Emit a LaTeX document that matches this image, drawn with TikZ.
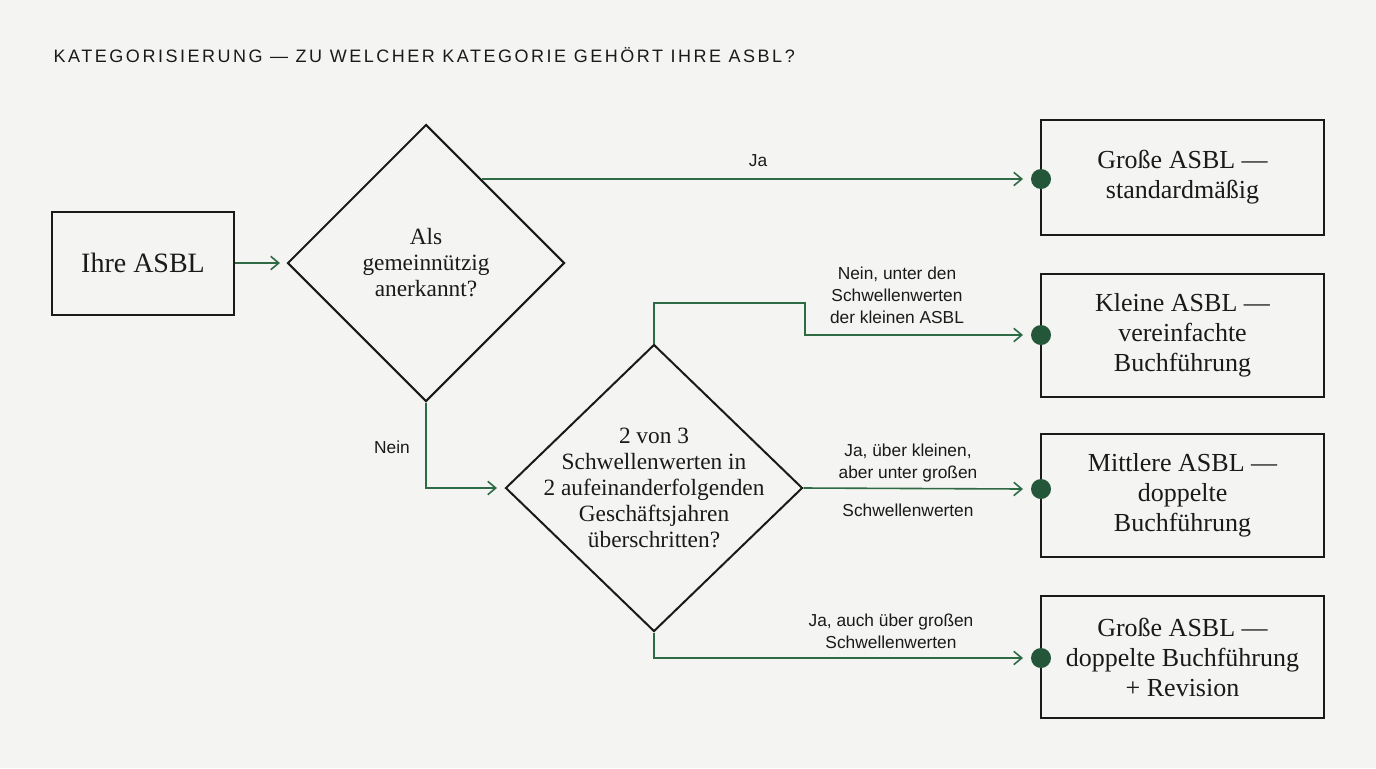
\documentclass[tikz,border=0pt]{standalone}
\usepackage{fontspec}
\setmainfont{Liberation Serif}
\setsansfont{Liberation Sans}
\usetikzlibrary{arrows.meta,shapes.geometric}
\definecolor{bg}{HTML}{F4F4F2}
\definecolor{grn}{HTML}{2E6B45}
\definecolor{dotc}{HTML}{24573A}
\definecolor{ink}{HTML}{1A1A1A}
\begin{document}
\begin{tikzpicture}[x=0.75pt,y=-0.75pt,
  box/.style={draw=ink,line width=1.5pt,inner sep=0pt,align=center,font=\fontsize{19.5}{22.5}\selectfont,text=ink},
  dia/.style={draw=ink,line width=1.5pt,diamond,inner sep=0pt},
  dtxt/.style={align=center,font=\fontsize{17.5}{19.5}\selectfont,text=ink},
  con/.style={draw=grn,line width=1.2pt,-{Straight Barb[length=6pt,width=10pt]}},
  lab/.style={font=\sffamily\fontsize{13}{16.5}\selectfont,text=ink,align=center},
  dot/.style={circle,fill=dotc,minimum size=15pt,inner sep=0pt}]
\fill[bg] (0,0) rectangle (1376,768);
\node[anchor=west,font=\sffamily\fontsize{13.5}{15}\selectfont,text=ink] (title) at (49,55) {\addfontfeature{LetterSpace=14}KATEGORISIERUNG — ZU WELCHER KATEGORIE GEHÖRT IHRE ASBL?};
\node[box,minimum width=182*0.75pt,minimum height=103*0.75pt,font=\fontsize{21}{24}\selectfont] (start) at (143,263) {Ihre ASBL};
\node[dia,minimum width=277*0.75pt,minimum height=277*0.75pt] (d1) at (426,263) {};
\node[dtxt] (t1) at (d1) {Als\\gemeinnützig\\anerkannt?};
\node[dia,minimum width=297*0.75pt,minimum height=287*0.75pt] (d2) at (654,488) {};
\node[dtxt] (t2) at (d2) {2 von 3\\Schwellenwerten in\\2 aufeinanderfolgenden\\Geschäftsjahren\\überschritten?};
\foreach \n/\y/\h/\t in {b1/177/115/{Große ASBL —\\standardmäßig},
  b2/335/123/{Kleine ASBL —\\vereinfachte\\Buchführung},
  b3/495/123/{Mittlere ASBL —\\doppelte\\Buchführung},
  b4/657/122/{Große ASBL —\\doppelte Buchführung\\+ Revision}}
  \node[box,minimum width=283*0.75pt,minimum height=\h*0.75pt] (\n) at (1182.5,\y) {\t};
\foreach \n/\y in {b1/179,b2/335,b3/489,b4/658}{
  \node[dot] (p\n) at (1041,\y) {};
  \coordinate (e\n) at (1023,\y);}
\draw[con] (start.east) -- (280,263);
\draw[con] (482,179) -- (eb1);
\node[lab] (l1) at (758,161) {Ja};
\draw[con] (d1.south) -- (426,488) -- (497,488);
\node[lab] (l2) at (392,447) {Nein};
\draw[con] (d2.north) -- (654,303) -- (805,303) -- (805,335) -- (eb2);
\node[lab] (l3) at (897,295) {Nein, unter den\\Schwellenwerten\\der kleinen ASBL};
\draw[con] (d2.east) -- (eb3);
\node[lab] (l4) at (908,463) {Ja, über kleinen,\\aber unter großen};
\node[lab] (l5) at (908,510) {Schwellenwerten};
\draw[con] (d2.south) -- (654,658) -- (eb4);
\node[lab] (l6) at (891,631) {Ja, auch über großen\\Schwellenwerten};
\end{tikzpicture}
\end{document}
